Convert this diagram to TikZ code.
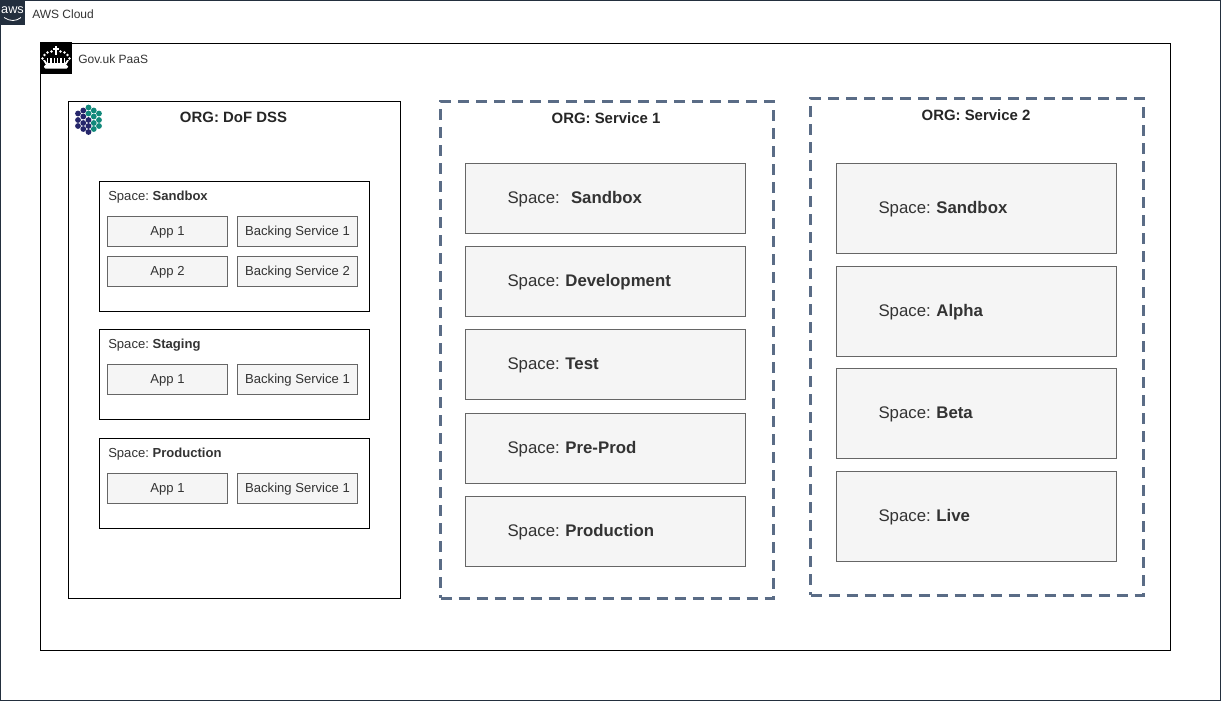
\documentclass[tikz,border=0pt]{standalone}
\usepackage{fontspec}
\setmainfont{Liberation Sans}
\definecolor{awsnavy}{HTML}{232F3E}
\definecolor{dashblue}{HTML}{5A6C86}
\definecolor{boxfill}{HTML}{F5F5F5}
\definecolor{boxline}{HTML}{666666}
\definecolor{boxtext}{HTML}{333333}
\definecolor{dofnavy}{HTML}{25266B}
\definecolor{dofteal}{HTML}{12897B}
\tikzset{
  box/.style 2 args={draw,anchor=north west,inner sep=0pt,outer sep=0pt,line width=0.75pt,
    minimum width=#1*0.75pt,minimum height=#2*0.75pt},
  orgbox/.style 2 args={box={#1}{#2},draw=black},
  dashbox/.style 2 args={box={#1}{#2},draw=dashblue,line width=2.25pt,
    dash pattern=on 8.25pt off 5.25pt},
  appbox/.style={box={120}{30},draw=boxline,fill=boxfill,text=boxtext,
    text height=8pt,text depth=1.9pt,font=\fontsize{9.8}{11}\selectfont},
  spacebox/.style 2 args={box={280}{#1},draw=boxline,fill=boxfill,text=boxtext,
    text height=10.2pt,text depth=2.4pt,
    font=\fontsize{12.6}{15}\selectfont,align=left,text width=#2*0.75pt},
  orgtitle/.style={anchor=center,inner sep=0pt,text=black!85,font=\fontsize{11.2}{12}\selectfont\bfseries},
  spacetitle/.style={anchor=west,inner sep=0pt,text=boxtext,font=\fontsize{9.8}{11}\selectfont},
  plaintitle/.style={anchor=west,inner sep=0pt,text=boxtext,font=\fontsize{9}{11}\selectfont}
}

\begin{document}
\frenchspacing
\begin{tikzpicture}[x=0.75pt,y=-0.75pt]
   \useasboundingbox (0,0) rectangle (1222,701);
   \fill[white] (0,0) rectangle (1222,701);

   % outer frames
   \node[orgbox={1220}{700},draw=awsnavy] (cloud) at (0.5,0.5) {};
   \node[orgbox={1130}{607}] (paas) at (40.5,43.5) {};
   \node[plaintitle] (cloudtitle) at (32,14) {AWS Cloud};
   \node[plaintitle] (paastitle) at (78,59) {Gov.uk PaaS};

   % aws logo
   \fill[awsnavy] (0,0) rectangle (25,25);
   \node[inner sep=0pt,text=white,font=\fontsize{9.5}{10}\selectfont] (awslogo) at (12.5,10.5) {aws};
   \draw[white,line width=0.6pt] (4,17.5) .. controls (10,21.5) and (16,21.5) .. (21,17.5);

   % crown logo
   \fill[black] (40,42) rectangle (72,74);
   \fill[white] (55,46) rectangle (57,55);
   \fill[white] (53,48.3) rectangle (59,50.3);
   \foreach \cx/\cy in {44.5/55,47.5/52.5,51.5/51.5,60.5/51.5,64.5/52.5,67.5/55,42.5/58.5,69.5/58.5}
     \fill[white] (\cx,\cy) circle (1.3);
   \foreach \cx in {47.5,51,54.5,57.5,61,64.5}
     \fill[white] (\cx-0.9,58) rectangle (\cx+0.9,65);
   \fill[white] (43,60) -- (46,65) -- (66,65) -- (69,60) -- (67,60) -- (65,63) -- (47,63) -- (45,60) -- cycle;
   \fill[white,rounded corners=1pt] (44,65) rectangle (68,68.5);

   % org: dof dss
   \node[orgbox={332}{497}] (dof) at (68.5,101) {};
   \node[orgtitle] (doftitle) at (233.5,117) {ORG: DoF DSS};
   \foreach \cx/\cy in {78/113.5,78/120,78/126,83.3/110.5,83.3/116.5,83.3/123,83.3/129,88.5/120,88.5/126,88.5/132}
     \fill[dofnavy] (\cx,\cy) circle (2.9);
   \foreach \cx/\cy in {88.5/107.5,88.5/113.5,93.8/110.5,93.8/116.5,93.8/123,93.8/129,99/113.5,99/120,99/126}
     \fill[dofteal] (\cx,\cy) circle (2.9);

   \node[orgbox={270}{130}] (dofsandbox) at (99.5,181.5) {};
   \node[spacetitle] (dofsandboxtitle) at (108,197) {Space: \textbf{Sandbox}};
   \node[appbox] (sandboxapp1) at (107.5,216) {App 1};
   \node[appbox] (sandboxbs1) at (237.5,216) {Backing Service 1};
   \node[appbox] (sandboxapp2) at (107.5,256) {App 2};
   \node[appbox] (sandboxbs2) at (237.5,256) {Backing Service 2};

   \node[orgbox={270}{90}] (dofstaging) at (99.5,329.5) {};
   \node[spacetitle] (dofstagingtitle) at (108,345) {Space: \textbf{Staging}};
   \node[appbox] (stagingapp1) at (107.5,364.5) {App 1};
   \node[appbox] (stagingbs1) at (237.5,364.5) {Backing Service 1};

   \node[orgbox={270}{90}] (dofprod) at (99.5,438.5) {};
   \node[spacetitle] (dofprodtitle) at (108,454) {Space: \textbf{Production}};
   \node[appbox] (prodapp1) at (107.5,473.5) {App 1};
   \node[appbox] (prodbs1) at (237.5,473.5) {Backing Service 1};

   % org: service 1
   \node[dashbox={332.5}{497}] (svcone) at (440.5,101) {};
   \node[orgtitle] (svconetitle) at (606,118) {ORG: Service 1};
   \node[spacebox={70}{196}] (svconeSandbox) at (465.5,163.5) {Space:\ \ \textbf{Sandbox}};
   \foreach \y/\name in {246.5/Development,329.5/Test,413.5/Pre-Prod,496.5/Production}
     \node[spacebox={70}{196}] (svcone\name) at (465.5,\y) {Space: \textbf{\name}};

   % org: service 2
   \node[dashbox={332.5}{497}] (svctwo) at (810.5,98) {};
   \node[orgtitle] (svctwotitle) at (976,115) {ORG: Service 2};
   \foreach \y/\name in {163.5/Sandbox,266/Alpha,368.5/Beta,471/Live}
     \node[spacebox={90}{196}] (svctwo\name) at (836.5,\y) {Space: \textbf{\name}};

\end{tikzpicture}
\end{document}
